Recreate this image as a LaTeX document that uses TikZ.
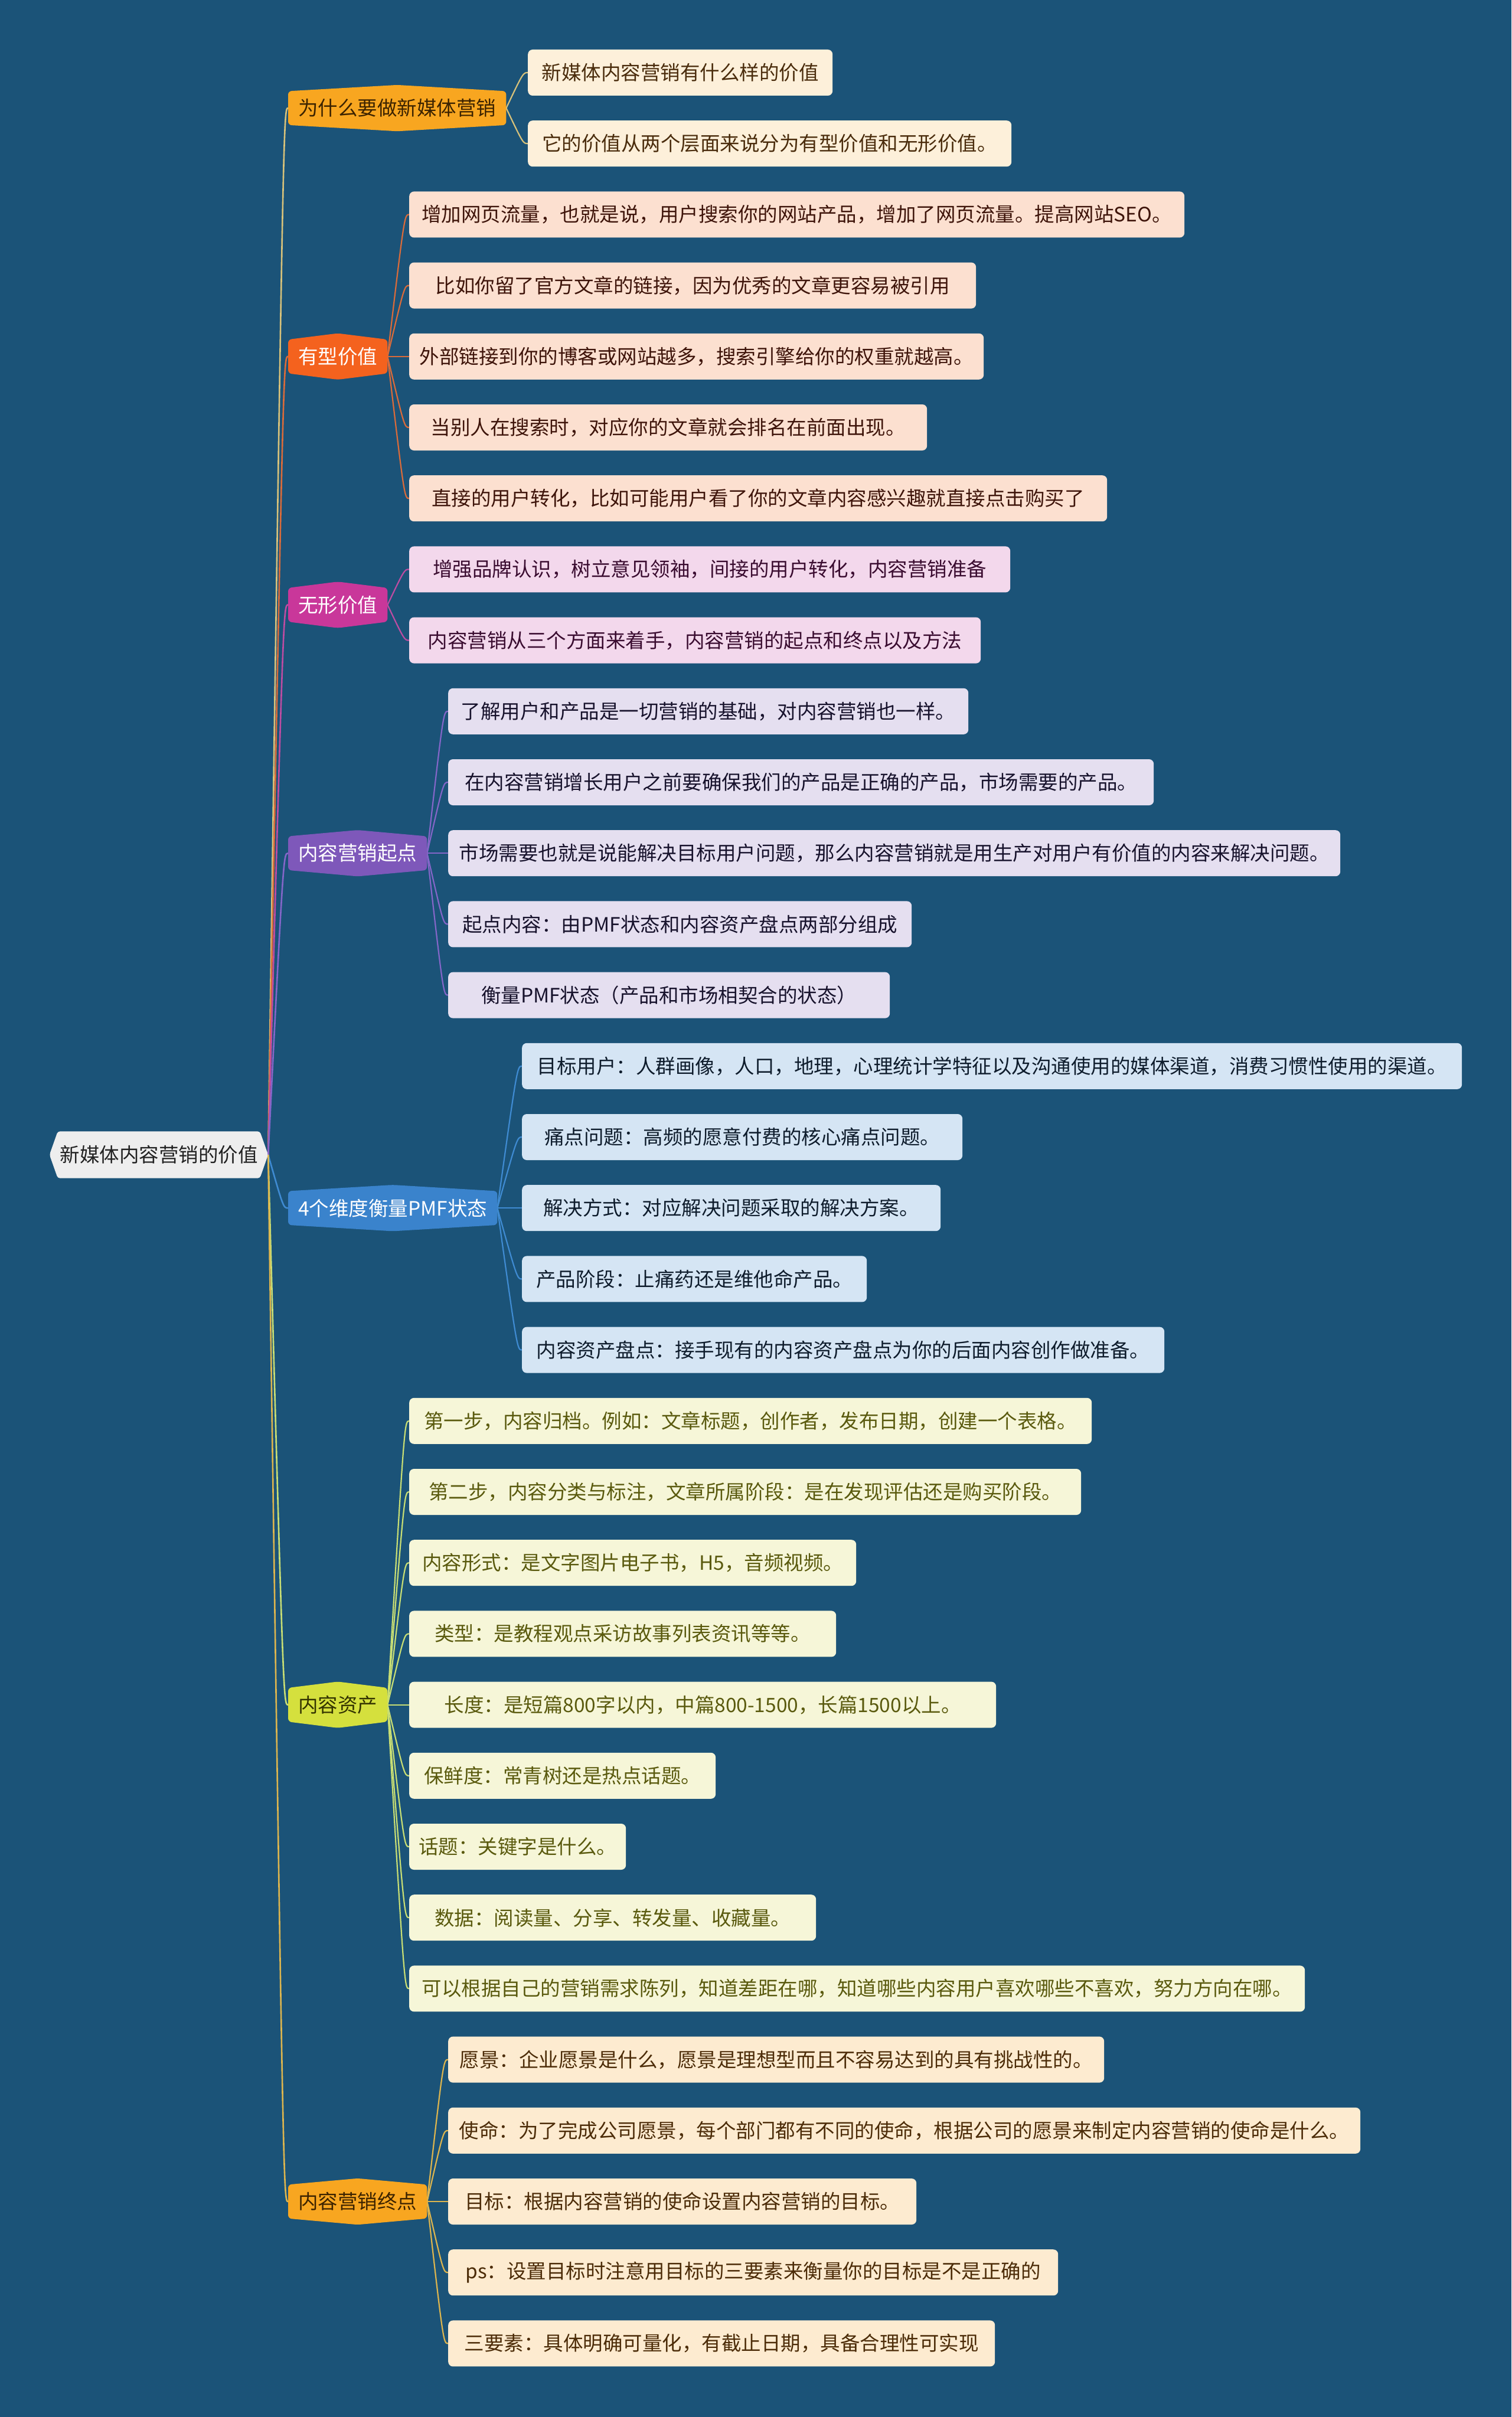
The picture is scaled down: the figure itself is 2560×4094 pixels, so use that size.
\documentclass[tikz,border=0pt]{standalone}
\usepackage{fontspec}
\setmainfont{Noto Sans CJK SC}
\usetikzlibrary{calc}
\pgfdeclarelayer{bg}
\pgfdeclarelayer{mid}
\pgfsetlayers{bg,mid,main}

\definecolor{bgc}{HTML}{1B5378}
\definecolor{rootf}{HTML}{EEEEEE}
\definecolor{roott}{HTML}{222222}
% branch fills / texts / lines / leaf fills / leaf texts
\definecolor{bAf}{HTML}{F8A620}\definecolor{bAt}{HTML}{3C2300}\definecolor{lnA}{HTML}{D8C27A}\definecolor{lfA}{HTML}{FDF0DA}\definecolor{ltA}{HTML}{4A2C0C}
\definecolor{bBf}{HTML}{F4621E}\definecolor{bBt}{HTML}{FFFFFF}\definecolor{lnB}{HTML}{DA6B3A}\definecolor{lfB}{HTML}{FCE0D0}\definecolor{ltB}{HTML}{3E140A}
\definecolor{bCf}{HTML}{C9379A}\definecolor{bCt}{HTML}{FFFFFF}\definecolor{lnC}{HTML}{BE4CA2}\definecolor{lfC}{HTML}{F3D8EC}\definecolor{ltC}{HTML}{3A0C30}
\definecolor{bDf}{HTML}{7E58BA}\definecolor{bDt}{HTML}{FFFFFF}\definecolor{lnD}{HTML}{8466C8}\definecolor{lfD}{HTML}{E5DFF0}\definecolor{ltD}{HTML}{17122C}
\definecolor{bEf}{HTML}{3A83CC}\definecolor{bEt}{HTML}{FFFFFF}\definecolor{lnE}{HTML}{3F8BD2}\definecolor{lfE}{HTML}{D5E5F4}\definecolor{ltE}{HTML}{0E1C2C}
\definecolor{bFf}{HTML}{D5E03D}\definecolor{bFt}{HTML}{333300}\definecolor{lnF}{HTML}{C8DE74}\definecolor{lfF}{HTML}{F6F6D8}\definecolor{ltF}{HTML}{5A5A0E}
\definecolor{bGf}{HTML}{F8A620}\definecolor{bGt}{HTML}{3C2300}\definecolor{lnG}{HTML}{DDB54E}\definecolor{lfG}{HTML}{FDEBD0}\definecolor{ltG}{HTML}{4C2C08}

\tikzset{
  txt/.style={font=\fontsize{33.5pt}{40pt}\selectfont},
  rootbox/.style={txt, text=roott, minimum width=370pt, minimum height=79pt, inner sep=0pt},
  brbox/.style={txt, anchor=west, inner xsep=17pt, inner ysep=0pt, minimum height=57pt},
  leafbox/.style={txt, anchor=west, rounded corners=8pt, inner xsep=0pt, inner ysep=0pt, minimum height=78pt},
  leafA/.style={leafbox, fill=lfA, text=ltA},
  leafB/.style={leafbox, fill=lfB, text=ltB},
  leafC/.style={leafbox, fill=lfC, text=ltC},
  leafD/.style={leafbox, fill=lfD, text=ltD},
  leafE/.style={leafbox, fill=lfE, text=ltE},
  leafF/.style={leafbox, fill=lfF, text=ltF},
  leafG/.style={leafbox, fill=lfG, text=ltG},
  trunk/.style={line width=2.6pt},
  twig/.style={line width=2.2pt},
}
\newcommand\brhex[2]{\fill[#2,rounded corners=6pt] (#1.south west) -- (#1.north west) -- ([yshift=10.5pt]#1.north) -- (#1.north east) -- (#1.south east) -- ([yshift=-10.5pt]#1.south) -- cycle;}
\newcommand\curvelink[4]{\draw[#4,#3] (#1) .. controls ([xshift=-8pt]#2.west) and ([xshift=-8pt]#2.west) .. (#2.west);}

\begin{document}
\begin{tikzpicture}[x=1pt,y=-1pt]
\begin{pgfonlayer}{bg}
\fill[bgc] (0,0) rectangle (2560,4094);
\end{pgfonlayer}
\useasboundingbox (0,0) rectangle (2560,4094);

% root
\node[rootbox] (root) at (269,1956) {新媒体内容营销的价值};

% branches
\node[brbox, text=bAt] (b1) at (488,183.1) {为什么要做新媒体营销};
\node[brbox, text=bBt] (b2) at (488,603.8) {有型价值};
\node[brbox, text=bCt] (b3) at (488,1024.5) {无形价值};
\node[brbox, text=bDt] (b4) at (488,1445.2) {内容营销起点};
\node[brbox, text=bEt] (b5) at (488,2046.2) {4个维度衡量PMF状态};
\node[brbox, text=bFt] (b6) at (488,2887.6) {内容资产};
\node[brbox, text=bGt] (b7) at (488,3729.0) {内容营销终点};

% leaves
\node[leafA, minimum width=516pt] (l0) at (894,123.0) {新媒体内容营销有什么样的价值};
\node[leafA, minimum width=819pt] (l1) at (894,243.2) {它的价值从两个层面来说分为有型价值和无形价值。};

\node[leafB, minimum width=1313pt] (l2) at (693,363.4) {增加网页流量，也就是说，用户搜索你的网站产品，增加了网页流量。提高网站SEO。};
\node[leafB, minimum width=960pt] (l3) at (693,483.6) {比如你留了官方文章的链接，因为优秀的文章更容易被引用};
\node[leafB, minimum width=973pt] (l4) at (693,603.8) {外部链接到你的博客或网站越多，搜索引擎给你的权重就越高。};
\node[leafB, minimum width=877pt] (l5) at (693,724.0) {当别人在搜索时，对应你的文章就会排名在前面出现。};
\node[leafB, minimum width=1182pt] (l6) at (693,844.2) {直接的用户转化，比如可能用户看了你的文章内容感兴趣就直接点击购买了};

\node[leafC, minimum width=1018pt] (l7) at (693,964.4) {增强品牌认识，树立意见领袖，间接的用户转化，内容营销准备};
\node[leafC, minimum width=968pt] (l8) at (693,1084.6) {内容营销从三个方面来着手，内容营销的起点和终点以及方法};

\node[leafD, minimum width=881pt] (l9) at (759,1204.8) {了解用户和产品是一切营销的基础，对内容营销也一样。};
\node[leafD, minimum width=1195pt] (l10) at (759,1325.0) {在内容营销增长用户之前要确保我们的产品是正确的产品，市场需要的产品。};
\node[leafD, minimum width=1511pt] (l11) at (759,1445.2) {市场需要也就是说能解决目标用户问题，那么内容营销就是用生产对用户有价值的内容来解决问题。};
\node[leafD, minimum width=785pt] (l12) at (759,1565.4) {起点内容：由PMF状态和内容资产盘点两部分组成};
\node[leafD, minimum width=748pt] (l13) at (759,1685.6) {衡量PMF状态（产品和市场相契合的状态）};

\node[leafE, minimum width=1592pt] (l14) at (884,1805.8) {目标用户：人群画像，人口，地理，心理统计学特征以及沟通使用的媒体渠道，消费习惯性使用的渠道。};
\node[leafE, minimum width=746pt] (l15) at (884,1926.0) {痛点问题：高频的愿意付费的核心痛点问题。};
\node[leafE, minimum width=709pt] (l16) at (884,2046.2) {解决方式：对应解决问题采取的解决方案。};
\node[leafE, minimum width=584pt] (l17) at (884,2166.4) {产品阶段：止痛药还是维他命产品。};
\node[leafE, minimum width=1088pt] (l18) at (884,2286.6) {内容资产盘点：接手现有的内容资产盘点为你的后面内容创作做准备。};

\node[leafF, minimum width=1156pt] (l19) at (693,2406.8) {第一步，内容归档。例如：文章标题，创作者，发布日期，创建一个表格。};
\node[leafF, minimum width=1138pt] (l20) at (693,2527.0) {第二步，内容分类与标注，文章所属阶段：是在发现评估还是购买阶段。};
\node[leafF, minimum width=757pt] (l21) at (693,2647.2) {内容形式：是文字图片电子书，H5，音频视频。};
\node[leafF, minimum width=723pt] (l22) at (693,2767.4) {类型：是教程观点采访故事列表资讯等等。};
\node[leafF, minimum width=994pt] (l23) at (693,2887.6) {长度：是短篇800字以内，中篇800-1500，长篇1500以上。};
\node[leafF, minimum width=519pt] (l24) at (693,3007.8) {保鲜度：常青树还是热点话题。};
\node[leafF, minimum width=367pt] (l25) at (693,3128.0) {话题：关键字是什么。};
\node[leafF, minimum width=689pt] (l26) at (693,3248.2) {数据：阅读量、分享、转发量、收藏量。};
\node[leafF, minimum width=1517pt] (l27) at (693,3368.4) {可以根据自己的营销需求陈列，知道差距在哪，知道哪些内容用户喜欢哪些不喜欢，努力方向在哪。};

\node[leafG, minimum width=1111pt] (l28) at (759,3488.6) {愿景：企业愿景是什么，愿景是理想型而且不容易达到的具有挑战性的。};
\node[leafG, minimum width=1545pt] (l29) at (759,3608.8) {使命：为了完成公司愿景，每个部门都有不同的使命，根据公司的愿景来制定内容营销的使命是什么。};
\node[leafG, minimum width=793pt] (l30) at (759,3729.0) {目标：根据内容营销的使命设置内容营销的目标。};
\node[leafG, minimum width=1033pt] (l31) at (759,3849.2) {ps：设置目标时注意用目标的三要素来衡量你的目标是不是正确的};
\node[leafG, minimum width=926pt] (l32) at (759,3969.4) {三要素：具体明确可量化，有截止日期，具备合理性可实现};

\begin{pgfonlayer}{mid}
% root to branches
\curvelink{root.east}{b1}{lnA}{trunk}
\curvelink{root.east}{b2}{lnB}{trunk}
\curvelink{root.east}{b3}{lnC}{trunk}
\curvelink{root.east}{b4}{lnD}{trunk}
\curvelink{root.east}{b5}{lnE}{trunk}
\curvelink{root.east}{b6}{lnF}{trunk}
\curvelink{root.east}{b7}{lnG}{trunk}
% branches to leaves
\foreach \l in {l0,l1} {\curvelink{b1.east}{\l}{lnA}{twig}}
\foreach \l in {l2,l3,l4,l5,l6} {\curvelink{b2.east}{\l}{lnB}{twig}}
\foreach \l in {l7,l8} {\curvelink{b3.east}{\l}{lnC}{twig}}
\foreach \l in {l9,l10,l11,l12,l13} {\curvelink{b4.east}{\l}{lnD}{twig}}
\foreach \l in {l14,l15,l16,l17,l18} {\curvelink{b5.east}{\l}{lnE}{twig}}
\foreach \l in {l19,l20,l21,l22,l23,l24,l25,l26,l27} {\curvelink{b6.east}{\l}{lnF}{twig}}
\foreach \l in {l28,l29,l30,l31,l32} {\curvelink{b7.east}{\l}{lnG}{twig}}
% shapes
\fill[rootf, rounded corners=4pt] (root.west) -- ([xshift=14pt]root.north west) -- ([xshift=-14pt]root.north east) -- (root.east) -- ([xshift=-14pt]root.south east) -- ([xshift=14pt]root.south west) -- cycle;
\brhex{b1}{bAf}
\brhex{b2}{bBf}
\brhex{b3}{bCf}
\brhex{b4}{bDf}
\brhex{b5}{bEf}
\brhex{b6}{bFf}
\brhex{b7}{bGf}
\end{pgfonlayer}
\end{tikzpicture}
\end{document}
